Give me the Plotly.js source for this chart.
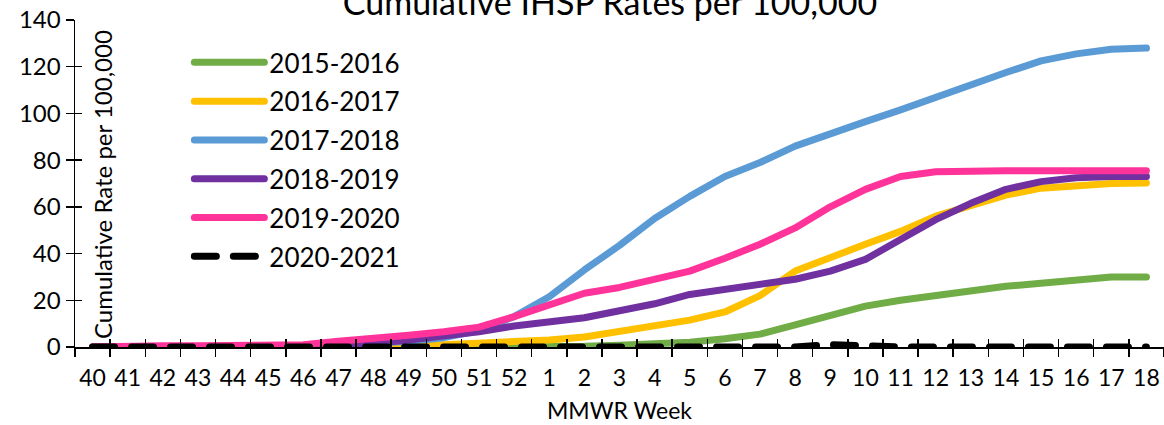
<!DOCTYPE html>
<html>
<head>
<meta charset="utf-8">
<script src="https://cdn.plot.ly/plotly-3.0.1.min.js"></script>
<style>
  html, body { margin: 0; padding: 0; background: #fff; }
  #chart { width: 1164px; height: 425px; }
  path.js-line { stroke-linecap: round; stroke-linejoin: round; }
</style>
</head>
<body>
<div id="chart"></div>
<script>
const weeks = ["40","41","42","43","44","45","46","47","48","49","50","51","52",
  "1","2","3","4","5","6","7","8","9","10","11","12","13","14","15","16","17","18"];

const s2015 = [0,0,0,0,0,0,0,0,0,0,0,0,0,0,0.3,0.8,1.3,2,3.5,5.5,9.5,13.7,17.5,20,22,24.7,26,27.3,28.3,30,30];
const s2016 = [0,0,0,0,0,0,0,0,0.3,0.6,1,1.5,2.2,3,4.3,6.5,8.7,11.5,15,22,32.5,38.5,44,49.5,56,60.5,65,68,69.3,70,70.2];
const s2017 = [0,0,0,0,0,0,0.3,0.8,1.5,2.5,4,7,13,21.5,33,43.5,55,64.5,73,79,86,91.5,96.5,101.5,107,112.5,117.5,122.5,125.5,127.5,128];
const s2018 = [0,0,0,0,0,0,0.3,1,1.5,3,4.5,6.5,9,10.5,12.5,15.5,18.5,22.5,24.5,27,29,32.5,37.5,46,54.5,61.5,67.5,70.8,72.5,73,73];
const s2019 = [0,0.5,0.5,0.5,0.5,0.5,1,2.5,3.5,5,6.5,8.5,13,18,23,25.5,29,32.5,38,44,51,60,67.5,73,75,75.5,75.5,75.5,75.5,75.5,75.5];
const s2020 = [0,0,0,0,0,0,0,0.5,0,0,0.3,0,0,0.2,0,0,0.5,0.6,0,0,0,1.0,0.3,0,0,0,0,0,0,0,0];

const seriesNames = ["2015-2016","2016-2017","2017-2018","2018-2019","2019-2020","2020-2021"];
const seriesData = [s2015, s2016, s2017, s2018, s2019, s2020];
const seriesColors = ["#70AD47","#FFC000","#5B9BD5","#7030A0","#FF3399","#000000"];

const FONT = "Lato, 'Open Sans', sans-serif";

const traces = seriesNames.map((n, i) => ({
  type: "scatter",
  mode: "lines",
  name: n,
  x: weeks,
  y: seriesData[i],
  legendgroup: n,
  line: {color: seriesColors[i], width: 7, dash: i === 5 ? "22px,17px" : "solid"},
  hoverinfo: "skip"
}));

// empty helper trace so the overlay axes (inner half of the crossing ticks) get drawn
traces.unshift({
  type: "scatter", mode: "lines", x: [], y: [],
  xaxis: "x2", yaxis: "y2", showlegend: false, hoverinfo: "skip"
});

const layout = {
  width: 1164, height: 425,
  margin: {l: 75, r: 0, t: 20, b: 78},
  paper_bgcolor: "#fff", plot_bgcolor: "#fff",
  font: {family: FONT, color: "#000", size: 23},
  title: {
    text: "Cumulative IHSP Rates per 100,000",
    font: {family: FONT, size: 34, color: "#000"},
    xref: "container", x: 610 / 1164, xanchor: "center",
    yref: "container", y: 1 - 3 / 425, yanchor: "middle"
  },
  showlegend: true,
  legend: {
    x: 0.105, xanchor: "left", y: 0.942, yanchor: "top",
    bgcolor: "rgba(0,0,0,0)", borderwidth: 0,
    font: {family: FONT, size: 26, color: "#000"},
    tracegroupgap: 2, itemwidth: 70
  },
  xaxis: {
    type: "category", categoryorder: "array", categoryarray: weeks,
    range: [-0.5, 30.5],
    showline: true, linecolor: "#000", linewidth: 1.5,
    ticks: "outside", ticklen: 8, tickwidth: 1.5, tickcolor: "#000",
    tickson: "boundaries", tickangle: 0, ticklabelstandoff: 10,
    showgrid: false, zeroline: false,
    tickfont: {family: FONT, size: 23},
    title: {text: "MMWR Week", font: {family: FONT, size: 23}, standoff: 13}
  },
  yaxis: {
    range: [0, 140], dtick: 20, tick0: 0,
    showline: true, linecolor: "#000", linewidth: 1.5,
    ticks: "outside", ticklen: 8, tickwidth: 1.5, tickcolor: "#000",
    showgrid: false, zeroline: false,
    tickfont: {family: FONT, size: 24}
  },
  xaxis2: {
    overlaying: "x", anchor: "y2", range: [-0.5, 30.5], tick0: 0.5, dtick: 1,
    ticks: "inside", ticklen: 8, tickwidth: 1.5, tickcolor: "#000",
    showticklabels: false, showgrid: false, zeroline: false, showline: false
  },
  yaxis2: {
    overlaying: "y", anchor: "x2", range: [0, 140], dtick: 20, tick0: 0,
    ticks: "inside", ticklen: 7, tickwidth: 1.5, tickcolor: "#000",
    showticklabels: false, showgrid: false, zeroline: false, showline: false
  },
  annotations: [{
    text: "Cumulative Rate per 100,000",
    xref: "paper", yref: "paper",
    x: (102 - 75) / 1089, y: (347 - 185) / 327,
    xanchor: "center", yanchor: "middle",
    textangle: -90, showarrow: false,
    font: {family: FONT, size: 24, color: "#000"}
  }]
};

Plotly.newPlot("chart", traces, layout, {staticPlot: true, displayModeBar: false});
</script>
</body>
</html>
